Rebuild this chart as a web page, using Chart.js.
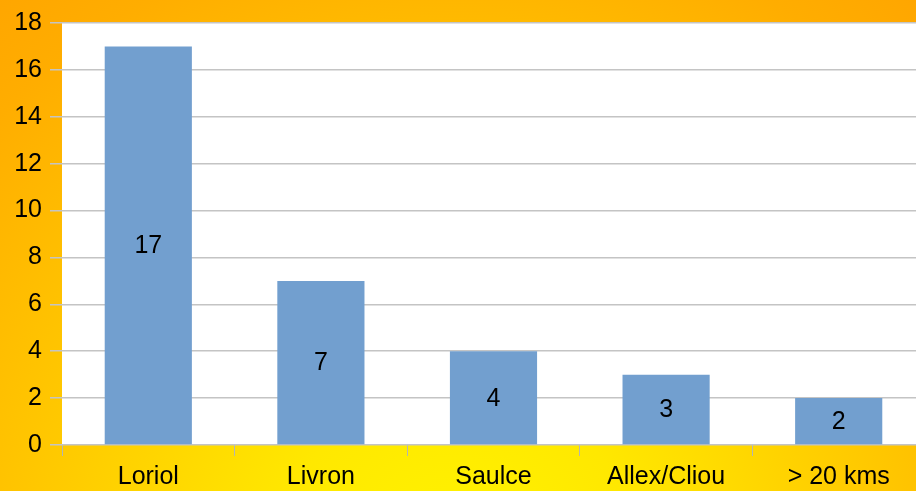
<!DOCTYPE html>
<html>
<head>
<meta charset="utf-8">
<script src="https://cdn.jsdelivr.net/npm/chart.js@4/dist/chart.umd.min.js"></script>
<style>
  html, body { margin: 0; padding: 0; background: #ffc000; overflow: hidden; }
  #wrap { width: 916px; height: 491px; position: relative; overflow: hidden; }
  canvas { display: block; }
</style>
</head>
<body>
<div id="wrap"><canvas id="c" width="925" height="491"></canvas></div>
<script>
const categories = ["Loriol", "Livron", "Saulce", "Allex/Cliou", "> 20 kms"];
const values = [17, 7, 4, 3, 2];
const yTicks = [0, 2, 4, 6, 8, 10, 12, 14, 16, 18];

const FONT = '"Liberation Sans", Arial, sans-serif';

const bgPlugin = {
  id: 'bg',
  beforeDraw(chart) {
    const ctx = chart.ctx, w = 916, h = chart.height;
    ctx.save();
    const g = ctx.createRadialGradient(w / 2, h + 70, 0, w / 2, h + 70, 800);
    g.addColorStop(0, '#fff400');
    g.addColorStop(0.22, '#ffe800');
    g.addColorStop(0.55, '#ffc600');
    g.addColorStop(0.8, '#ffad00');
    g.addColorStop(1, '#ffa000');
    ctx.fillStyle = g;
    ctx.fillRect(0, 0, chart.width, h);
    const a = chart.chartArea;
    ctx.fillStyle = '#ffffff';
    ctx.fillRect(a.left, a.top, a.right - a.left, a.bottom - a.top);
    ctx.restore();
  }
};

const labelPlugin = {
  id: 'vals',
  afterDatasetsDraw(chart) {
    const ctx = chart.ctx;
    const meta = chart.getDatasetMeta(0);
    ctx.save();
    ctx.font = '25px ' + FONT;
    ctx.fillStyle = '#000000';
    ctx.textAlign = 'center';
    ctx.textBaseline = 'middle';
    meta.data.forEach((bar, i) => {
      const yc = (bar.y + bar.base) / 2;
      ctx.fillText(String(values[i]), bar.x, yc + 1);
    });
    ctx.restore();
  }
};

new Chart(document.getElementById('c'), {
  type: 'bar',
  data: {
    labels: categories,
    datasets: [{
      data: values,
      backgroundColor: '#729fcf',
      borderWidth: 0,
      categoryPercentage: 1,
      barPercentage: 0.505
    }]
  },
  options: {
    responsive: false,
    animation: false,
    devicePixelRatio: 1,
    layout: { padding: { top: 22, right: 0, left: 0, bottom: 0 } },
    plugins: { legend: { display: false }, tooltip: { enabled: false } },
    scales: {
      x: {
        afterFit(s) { s.height = 46; },
        grid: { display: true, drawOnChartArea: false, drawTicks: true, tickLength: 11, color: '#b4b4b4', lineWidth: 1 },
        border: { display: false },
        ticks: { color: '#000', font: { family: FONT, size: 25 }, padding: 6, maxRotation: 0, autoSkip: false }
      },
      y: {
        min: 0, max: 18,
        afterFit(s) { s.width = 62; },
        afterBuildTicks(s) { s.ticks = yTicks.map(v => ({ value: v })); },
        grid: { color: '#c4c4c4', lineWidth: 1.5, tickLength: 12, drawTicks: true },
        border: { display: false },
        ticks: { color: '#000', font: { family: FONT, size: 25 }, padding: 8 }
      }
    }
  },
  plugins: [bgPlugin, labelPlugin]
});
</script>
</body>
</html>
